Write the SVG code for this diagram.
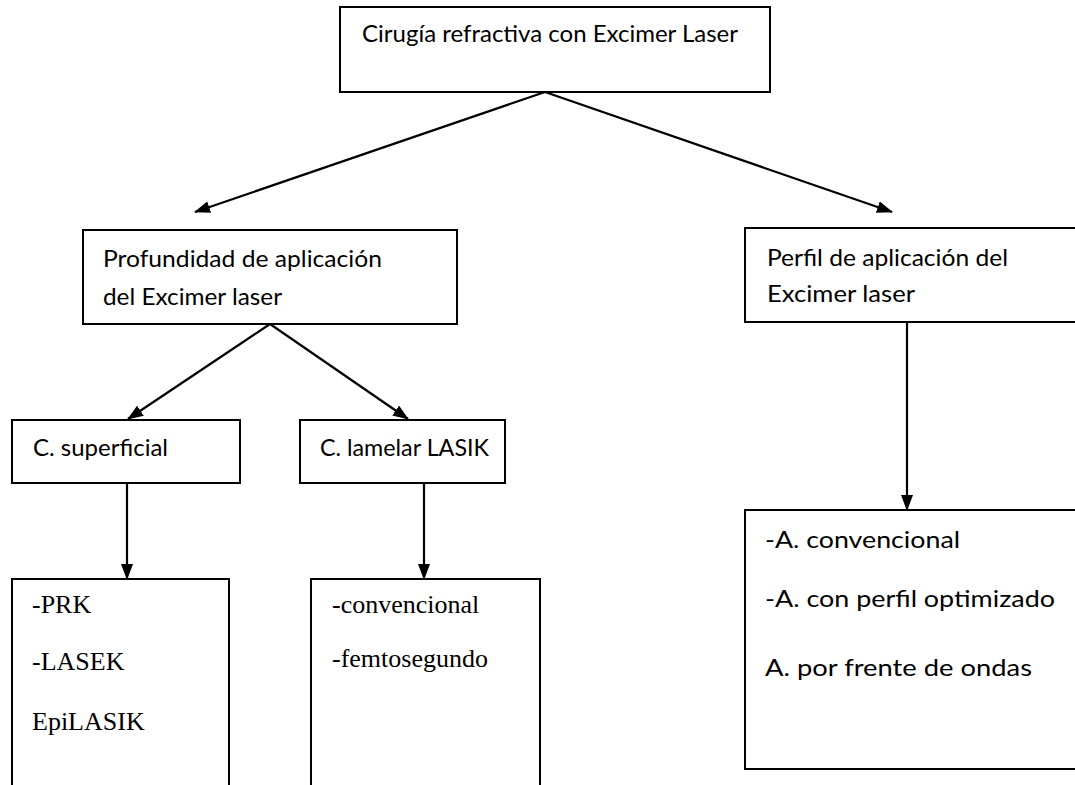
<svg xmlns="http://www.w3.org/2000/svg" width="1075" height="785" viewBox="0 0 1075 785">
<defs>
<marker id="ah" viewBox="0 0 16 12" refX="15" refY="6" markerWidth="16" markerHeight="12" markerUnits="userSpaceOnUse" orient="auto">
<path d="M0,0 L16,6 L0,12 Z" fill="#000"/>
</marker>
<style>
.box{fill:#fff;stroke:#000;stroke-width:2}
.t{font-family:Lato,"Open Sans","Liberation Sans",sans-serif;font-size:24px;fill:#000}
.s{font-family:"Liberation Serif","DejaVu Serif",serif;font-size:26px;fill:#000}
.c{stroke:#000;stroke-width:2.2;fill:none;marker-end:url(#ah)}
</style>
</defs>
<rect width="1075" height="785" fill="#fff"/>
<g id="connectors">
<line class="c" x1="545" y1="92" x2="195" y2="212"/>
<line class="c" x1="545" y1="92" x2="892" y2="212"/>
<line class="c" x1="270" y1="324" x2="128" y2="419"/>
<line class="c" x1="270" y1="324" x2="408" y2="419"/>
<line class="c" x1="127" y1="483" x2="127" y2="579"/>
<line class="c" x1="424" y1="483" x2="424" y2="579"/>
<line class="c" x1="907" y1="322" x2="907" y2="510"/>
</g>
<g id="root">
<rect class="box" x="340" y="7" width="430" height="85"/>
<text class="t" x="362" y="42" textLength="376" lengthAdjust="spacingAndGlyphs">Cirugía refractiva con Excimer Laser</text>
</g>
<g id="profundidad">
<rect class="box" x="83" y="230" width="374" height="94"/>
<text class="t" x="103" y="267" textLength="279" lengthAdjust="spacingAndGlyphs">Profundidad de aplicación</text>
<text class="t" x="103" y="305" textLength="179" lengthAdjust="spacingAndGlyphs">del Excimer laser</text>
</g>
<g id="perfil">
<rect class="box" x="745" y="228" width="340" height="94"/>
<text class="t" x="767" y="266" textLength="241" lengthAdjust="spacingAndGlyphs">Perfil de aplicación del</text>
<text class="t" x="767" y="302" textLength="148" lengthAdjust="spacingAndGlyphs">Excimer laser</text>
</g>
<g id="superficial">
<rect class="box" x="12" y="420" width="228" height="63"/>
<text class="t" x="33" y="456" textLength="135" lengthAdjust="spacingAndGlyphs">C. superficial</text>
</g>
<g id="lamelar">
<rect class="box" x="300" y="420" width="205" height="63"/>
<text class="t" x="320" y="456" textLength="169" lengthAdjust="spacingAndGlyphs">C. lamelar LASIK</text>
</g>
<g id="superficial-list">
<rect class="box" x="12" y="579" width="217" height="220"/>
<text class="s" x="32" y="613">-PRK</text>
<text class="s" x="32" y="670">-LASEK</text>
<text class="s" x="32" y="730">EpiLASIK</text>
</g>
<g id="lamelar-list">
<rect class="box" x="311" y="579" width="229" height="220"/>
<text class="s" x="332" y="613">-convencional</text>
<text class="s" x="332" y="667">-femtosegundo</text>
</g>
<g id="perfil-list">
<rect class="box" x="745" y="510" width="340" height="259"/>
<text class="t" x="765" y="548" textLength="195" lengthAdjust="spacingAndGlyphs">-A. convencional</text>
<text class="t" x="765" y="607" textLength="290" lengthAdjust="spacingAndGlyphs">-A. con perfil optimizado</text>
<text class="t" x="765" y="676" textLength="267" lengthAdjust="spacingAndGlyphs">A. por frente de ondas</text>
</g>
</svg>
